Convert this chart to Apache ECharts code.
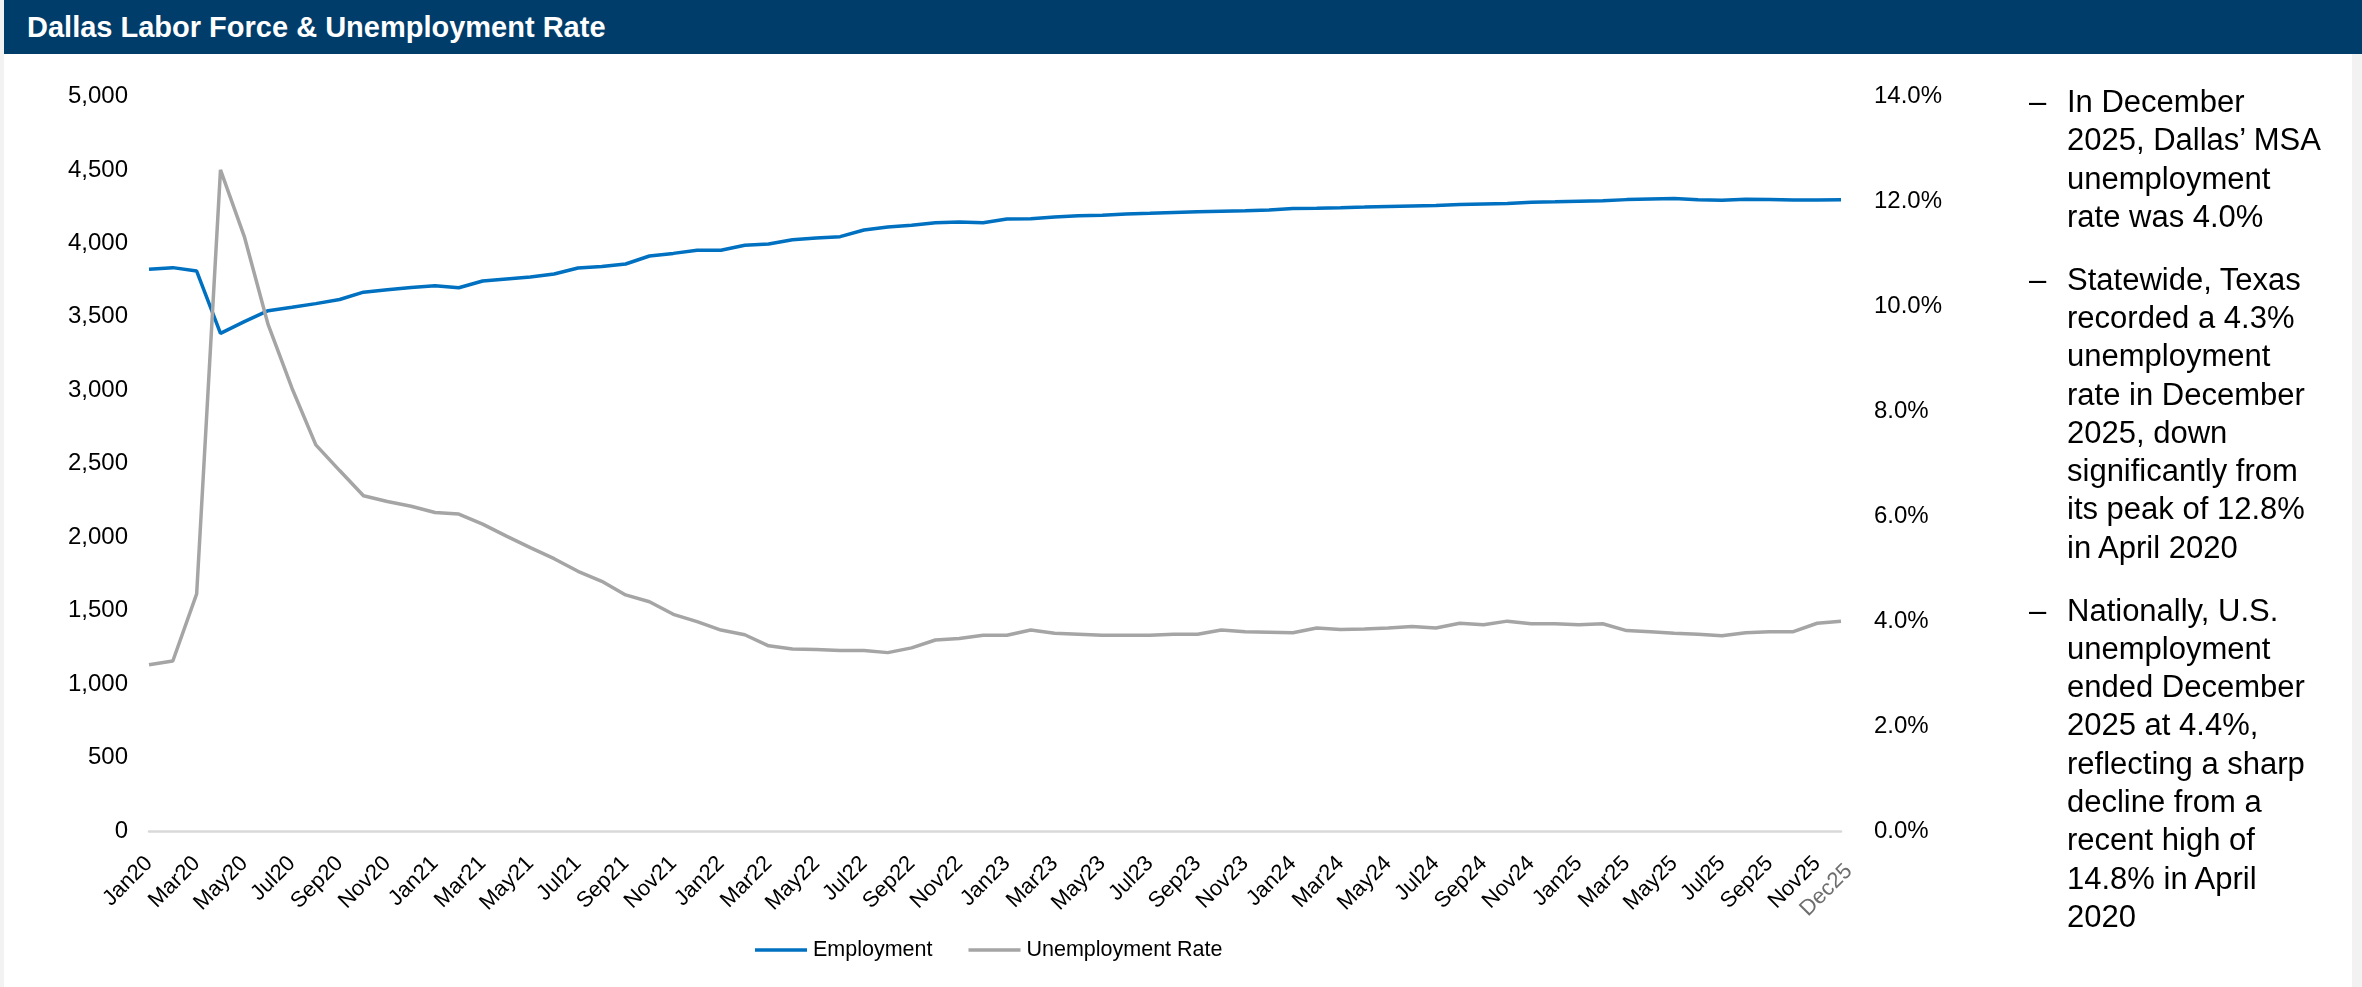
<!DOCTYPE html>
<html>
<head>
<meta charset="utf-8">
<title>Dallas Labor Force &amp; Unemployment Rate</title>
<script src="https://cdn.jsdelivr.net/npm/echarts@6/dist/echarts.min.js"></script>
<style>
  html, body { margin: 0; padding: 0; width: 2362px; height: 987px; overflow: hidden; background: #f2f2f2; }
  body { font-family: 'Liberation Sans', Arial, sans-serif; position: relative; }
  #panel { position: absolute; left: 4px; top: 0; width: 2348px; height: 987px; background: #ffffff; }
  #header { position: absolute; left: 4px; top: 0; width: 2358px; height: 54px; background: #003d6b; }
  #title { position: absolute; left: 23px; top: 13px; margin: 0; color: #ffffff; font-weight: bold;
           font-size: 29px; line-height: 29px; white-space: nowrap; }
  #chart { position: absolute; left: 0; top: 0; width: 2362px; height: 987px; }
  #notes { position: absolute; left: 2029px; top: 83px; width: 320px; color: #000000;
           font-size: 31px; line-height: 38.3px; }
  .item { display: flex; margin-bottom: 24.5px; }
  .dash { flex: none; width: 38px; }
</style>
</head>
<body>
<div id="panel"></div>
<div id="chart"></div>
<div id="header"><h1 id="title">Dallas Labor Force &amp; Unemployment Rate</h1></div>
<div id="notes">
  <div class="item"><span class="dash">–</span><span>In December<br>2025, Dallas’ MSA<br>unemployment<br>rate was 4.0%</span></div>
  <div class="item"><span class="dash">–</span><span>Statewide, Texas<br>recorded a 4.3%<br>unemployment<br>rate in December<br>2025, down<br>significantly from<br>its peak of 12.8%<br>in April 2020</span></div>
  <div class="item"><span class="dash">–</span><span>Nationally, U.S.<br>unemployment<br>ended December<br>2025 at 4.4%,<br>reflecting a sharp<br>decline from a<br>recent high of<br>14.8% in April<br>2020</span></div>
</div>
<script>
// Monthly categories, Jan 2020 – Dec 2025
const months = [
  'Jan20','Feb20','Mar20','Apr20','May20','Jun20','Jul20','Aug20','Sep20','Oct20','Nov20','Dec20',
  'Jan21','Feb21','Mar21','Apr21','May21','Jun21','Jul21','Aug21','Sep21','Oct21','Nov21','Dec21',
  'Jan22','Feb22','Mar22','Apr22','May22','Jun22','Jul22','Aug22','Sep22','Oct22','Nov22','Dec22',
  'Jan23','Feb23','Mar23','Apr23','May23','Jun23','Jul23','Aug23','Sep23','Oct23','Nov23','Dec23',
  'Jan24','Feb24','Mar24','Apr24','May24','Jun24','Jul24','Aug24','Sep24','Oct24','Nov24','Dec24',
  'Jan25','Feb25','Mar25','Apr25','May25','Jun25','Jul25','Aug25','Sep25','Oct25','Nov25','Dec25'
];

// Employment (thousands), left axis
const employment = [
  3824, 3835, 3812, 3388, 3467, 3542, 3565, 3590, 3618, 3668, 3685, 3700,
  3712, 3698, 3744, 3758, 3771, 3792, 3833, 3842, 3860, 3914, 3932, 3953,
  3953, 3987, 3996, 4025, 4037, 4046, 4091, 4112, 4123, 4141, 4146, 4141,
  4166, 4168, 4180, 4189, 4192, 4200, 4205, 4211, 4215, 4219, 4222, 4227,
  4238, 4240, 4243, 4247, 4252, 4255, 4258, 4265, 4268, 4271, 4280, 4283,
  4287, 4291, 4298, 4302, 4305, 4297, 4293, 4301, 4299, 4296, 4296, 4297
];

// Unemployment rate (%), right axis
const unemploymentRate = [
  3.17, 3.24, 4.52, 12.6, 11.33, 9.65, 8.44, 7.36, 6.87, 6.39, 6.28, 6.19,
  6.07, 6.04, 5.85, 5.62, 5.40, 5.19, 4.95, 4.76, 4.50, 4.37, 4.13, 3.99,
  3.83, 3.74, 3.53, 3.47, 3.46, 3.44, 3.44, 3.40, 3.49, 3.64, 3.67, 3.73,
  3.73, 3.83, 3.77, 3.75, 3.73, 3.73, 3.73, 3.75, 3.75, 3.83, 3.80, 3.79,
  3.78, 3.87, 3.84, 3.85, 3.87, 3.90, 3.87, 3.96, 3.93, 4.00, 3.95, 3.95,
  3.93, 3.95, 3.82, 3.80, 3.77, 3.75, 3.72, 3.78, 3.80, 3.80, 3.96, 4.00
];

// Axis ranges
const employmentAxis = { min: 0, max: 5000, step: 500 };
const rateAxis = { min: 0, max: 14, step: 2 };

const FONT = "'Liberation Sans', Arial, sans-serif";
const lastIndex = months.length - 1;
const BLUE = '#0070c0';
const GREY = '#a5a5a5';

const chart = echarts.init(document.getElementById('chart'), null, { renderer: 'canvas' });

chart.setOption({
  backgroundColor: 'transparent',
  animation: false,
  textStyle: { fontFamily: FONT },
  grid: { left: 149, top: 96.5, width: 1692, height: 734.5, containLabel: false },
  legend: {
    data: [
      { name: 'Employment', icon: 'rect', itemStyle: { color: BLUE } },
      { name: 'Unemployment Rate', icon: 'rect', itemStyle: { color: GREY } }
    ],
    left: 755,
    top: 939,
    padding: 0,
    itemWidth: 52,
    itemHeight: 3.5,
    itemGap: 36,
    textStyle: { fontFamily: FONT, fontSize: 21.5, color: '#000000', padding: [0, 0, 0, 1] }
  },
  xAxis: {
    type: 'category',
    data: months,
    boundaryGap: false,
    axisLine: { show: true, lineStyle: { color: '#d9d9d9', width: 2.5 } },
    axisTick: { show: false },
    splitLine: { show: false },
    axisLabel: {
      interval: (idx) => idx % 2 === 0 || idx === lastIndex,
      showMinLabel: true,
      showMaxLabel: true,
      hideOverlap: false,
      rotate: 45,
      margin: 29,
      fontFamily: FONT,
      fontSize: 22,
      color: '#000000',
      formatter: (v) => (v === months[lastIndex] ? '{last|' + v + '}' : v),
      rich: { last: { fontFamily: FONT, fontSize: 22, color: '#6e6e6e', padding: [22, 0, 0, 0] } }
    }
  },
  yAxis: [
    {
      type: 'value',
      position: 'left',
      min: employmentAxis.min,
      max: employmentAxis.max,
      interval: employmentAxis.step,
      axisLine: { show: false },
      axisTick: { show: false },
      splitLine: { show: false },
      axisLabel: {
        margin: 21,
        fontFamily: FONT,
        fontSize: 24,
        color: '#000000',
        formatter: (v) => v.toLocaleString('en-US')
      }
    },
    {
      type: 'value',
      position: 'right',
      min: rateAxis.min,
      max: rateAxis.max,
      interval: rateAxis.step,
      axisLine: { show: false },
      axisTick: { show: false },
      splitLine: { show: false },
      axisLabel: {
        margin: 33,
        fontFamily: FONT,
        fontSize: 24,
        color: '#000000',
        formatter: (v) => v.toFixed(1) + '%'
      }
    }
  ],
  series: [
    {
      name: 'Employment',
      type: 'line',
      yAxisIndex: 0,
      data: employment,
      symbol: 'none',
      lineStyle: { color: BLUE, width: 3.5 },
      itemStyle: { color: BLUE }
    },
    {
      name: 'Unemployment Rate',
      type: 'line',
      yAxisIndex: 1,
      data: unemploymentRate,
      symbol: 'none',
      lineStyle: { color: GREY, width: 3.5 },
      itemStyle: { color: GREY }
    }
  ]
});
</script>
</body>
</html>
